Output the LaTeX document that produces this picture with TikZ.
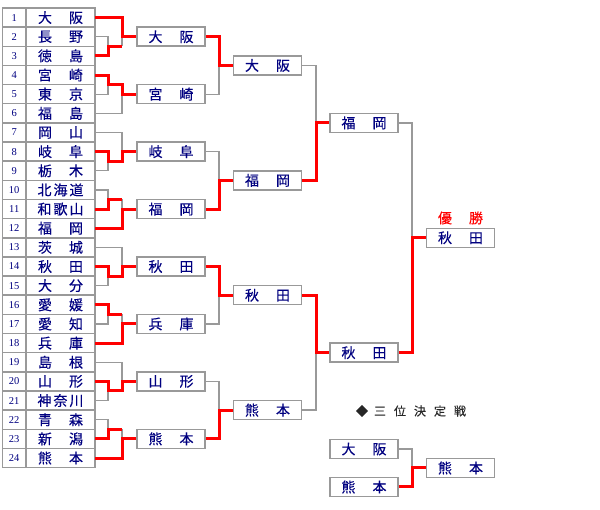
\documentclass[tikz,border=0pt]{standalone}
\usepackage{fontspec}
\newfontfamily\cjk[FakeBold=0.3]{Noto Sans CJK JP}
\newfontfamily\numf{Liberation Serif}
\definecolor{navy}{RGB}{0,0,128}
\definecolor{lg}{RGB}{153,153,153}
\newcommand\sprB[2]{\hbox to 45pt{#1\hfil #2}}
\newcommand\sprC[3]{\hbox to 46pt{#1\hfil #2\hfil #3}}
\newcommand\rowc[1]{(8+19.15*(#1-0.5))}
\newcommand\rowb[1]{(8+19.15*(#1))}
\begin{document}
\begin{tikzpicture}[x=1pt,y=-1pt,
  numcell/.style={draw=lg,line width=1.5pt,minimum width=23.5pt,minimum height=19.15pt,inner sep=0pt,outer sep=0pt,text=navy,font=\numf\fontsize{10.5}{10.5}\selectfont},
  namecell/.style={numcell,minimum width=69pt,font=\cjk\fontsize{14}{14}\selectfont},
  box/.style={draw=lg,line width=1.5pt,fill=white,minimum width=68pt,minimum height=19pt,inner sep=0pt,text=navy,font=\cjk\fontsize{14}{14}\selectfont},
  win/.style={draw=red,line width=3pt},
  lose/.style={draw=lg,line width=1.3pt}]
\useasboundingbox (0,0) rectangle (600,510);
% table
\foreach \k in {1,...,24}{
  \node[numcell] (n\k) at (14.25,{\rowc{\k}}) {\k};
}
\node[namecell] (t1) at (60.5,{\rowc{1}}) {\sprB{大}{阪}};
\node[namecell] (t2) at (60.5,{\rowc{2}}) {\sprB{長}{野}};
\node[namecell] (t3) at (60.5,{\rowc{3}}) {\sprB{徳}{島}};
\node[namecell] (t4) at (60.5,{\rowc{4}}) {\sprB{宮}{崎}};
\node[namecell] (t5) at (60.5,{\rowc{5}}) {\sprB{東}{京}};
\node[namecell] (t6) at (60.5,{\rowc{6}}) {\sprB{福}{島}};
\node[namecell] (t7) at (60.5,{\rowc{7}}) {\sprB{岡}{山}};
\node[namecell] (t8) at (60.5,{\rowc{8}}) {\sprB{岐}{阜}};
\node[namecell] (t9) at (60.5,{\rowc{9}}) {\sprB{栃}{木}};
\node[namecell] (t10) at (60.5,{\rowc{10}}) {\sprC{北}{海}{道}};
\node[namecell] (t11) at (60.5,{\rowc{11}}) {\sprC{和}{歌}{山}};
\node[namecell] (t12) at (60.5,{\rowc{12}}) {\sprB{福}{岡}};
\node[namecell] (t13) at (60.5,{\rowc{13}}) {\sprB{茨}{城}};
\node[namecell] (t14) at (60.5,{\rowc{14}}) {\sprB{秋}{田}};
\node[namecell] (t15) at (60.5,{\rowc{15}}) {\sprB{大}{分}};
\node[namecell] (t16) at (60.5,{\rowc{16}}) {\sprB{愛}{媛}};
\node[namecell] (t17) at (60.5,{\rowc{17}}) {\sprB{愛}{知}};
\node[namecell] (t18) at (60.5,{\rowc{18}}) {\sprB{兵}{庫}};
\node[namecell] (t19) at (60.5,{\rowc{19}}) {\sprB{島}{根}};
\node[namecell] (t20) at (60.5,{\rowc{20}}) {\sprB{山}{形}};
\node[namecell] (t21) at (60.5,{\rowc{21}}) {\sprC{神}{奈}{川}};
\node[namecell] (t22) at (60.5,{\rowc{22}}) {\sprB{青}{森}};
\node[namecell] (t23) at (60.5,{\rowc{23}}) {\sprB{新}{潟}};
\node[namecell] (t24) at (60.5,{\rowc{24}}) {\sprB{熊}{本}};
% junction coordinates
\foreach \i/\r in {1/2,2/4,3/8,4/10,5/14,6/16,7/20,8/22}{
  \coordinate (p\i) at (108,{\rowb{\r}});
}
\foreach \i/\r in {1/2,2/5,3/8,4/11,5/14,6/17,7/20,8/23}{
  \coordinate (q\i) at (122,{\rowc{\r}});
}
\foreach \i/\r in {1/3,2/9,3/15,4/21}{
  \coordinate (r\i) at (219,{\rowb{\r}});
}
\coordinate (v1) at (316,{\rowb{6}});
\coordinate (v2) at (316,{\rowb{18}});
\coordinate (f) at (412,{\rowb{12}});
\coordinate (tpj) at (412,468);
% second round boxes
\node[box] (s1) at (171,{\rowc{2}}) {\sprB{大}{阪}};
\node[box] (s2) at (171,{\rowc{5}}) {\sprB{宮}{崎}};
\node[box] (s3) at (171,{\rowc{8}}) {\sprB{岐}{阜}};
\node[box] (s4) at (171,{\rowc{11}}) {\sprB{福}{岡}};
\node[box] (s5) at (171,{\rowc{14}}) {\sprB{秋}{田}};
\node[box] (s6) at (171,{\rowc{17}}) {\sprB{兵}{庫}};
\node[box] (s7) at (171,{\rowc{20}}) {\sprB{山}{形}};
\node[box] (s8) at (171,{\rowc{23}}) {\sprB{熊}{本}};
% third round
\node[box] (u1) at (267.5,{\rowb{3}}) {\sprB{大}{阪}};
\node[box] (u2) at (267.5,{\rowb{9}}) {\sprB{福}{岡}};
\node[box] (u3) at (267.5,{\rowb{15}}) {\sprB{秋}{田}};
\node[box] (u4) at (267.5,{\rowb{21}}) {\sprB{熊}{本}};
% semi final
\node[box] (w1) at (364,{\rowb{6}}) {\sprB{福}{岡}};
\node[box] (w2) at (364,{\rowb{18}}) {\sprB{秋}{田}};
% champion
\node[box] (champ) at (460.5,{\rowb{12}}) {\sprB{秋}{田}};
\node[text=red,font=\cjk\fontsize{14}{14}\selectfont,inner sep=0pt] (yusho) at (460.5,218) {\sprB{優}{勝}};
% third place
\node[font=\cjk\fontsize{12}{12}\selectfont,text=black!85,inner sep=0pt] (sanni) at (411,411) {◆\hspace{6pt}三\hspace{8pt}位\hspace{8pt}決\hspace{8pt}定\hspace{8pt}戦};
\node[box] (tp1) at (364,449) {\sprB{大}{阪}};
\node[box] (tp2) at (364,487) {\sprB{熊}{本}};
\node[box] (tp3) at (460.5,468) {\sprB{熊}{本}};
% losing lines
\draw[lose] (t2.east) -| (p1);  \draw[lose] (p1 -| q1) -- (q1);
\draw[lose] (t5.east) -| (p2);  \draw[lose] (t6.east) -| (q2);
\draw[lose] (t9.east) -| (p3);  \draw[lose] (t7.east) -| (q3);
\draw[lose] (t10.east) -| (p4); \draw[lose] (p4 -| q4) -- (q4);
\draw[lose] (t15.east) -| (p5); \draw[lose] (t13.east) -| (q5);
\draw[lose] (t17.east) -| (p6); \draw[lose] (p6 -| q6) -- (q6);
\draw[lose] (t21.east) -| (p7); \draw[lose] (t19.east) -| (q7);
\draw[lose] (t22.east) -| (p8); \draw[lose] (p8 -| q8) -- (q8);
\draw[lose] (s2.east) -| (r1);
\draw[lose] (s3.east) -| (r2);
\draw[lose] (s6.east) -| (r3);
\draw[lose] (s7.east) -| (r4);
\draw[lose] (u1.east) -| (v1);
\draw[lose] (u4.east) -| (v2);
\draw[lose] (w1.east) -| (f);
\draw[lose] (tp1.east) -| (tpj);
% winning lines
\draw[win] (t3.east) -| (p1) -- (p1 -| q1);
\draw[win] (t1.east) -| (q1) -- (s1.west);
\draw[win] (t4.east) -| (p2) -- (p2 -| q2) -- (q2) -- (s2.west);
\draw[win] (t8.east) -| (p3) -- (p3 -| q3) -- (q3) -- (s3.west);
\draw[win] (t11.east) -| (p4) -- (p4 -| q4);
\draw[win] (t12.east) -| (q4) -- (s4.west);
\draw[win] (t14.east) -| (p5) -- (p5 -| q5) -- (q5) -- (s5.west);
\draw[win] (t16.east) -| (p6) -- (p6 -| q6);
\draw[win] (t18.east) -| (q6) -- (s6.west);
\draw[win] (t20.east) -| (p7) -- (p7 -| q7) -- (q7) -- (s7.west);
\draw[win] (t23.east) -| (p8) -- (p8 -| q8);
\draw[win] (t24.east) -| (q8) -- (s8.west);
\draw[win] (s1.east) -| (r1) -- (u1.west);
\draw[win] (s4.east) -| (r2) -- (u2.west);
\draw[win] (s5.east) -| (r3) -- (u3.west);
\draw[win] (s8.east) -| (r4) -- (u4.west);
\draw[win] (u2.east) -| (v1) -- (w1.west);
\draw[win] (u3.east) -| (v2) -- (w2.west);
\draw[win] (w2.east) -| (f) -- (champ.west);
\draw[win] (tp2.east) -| (tpj) -- (tp3.west);
\end{tikzpicture}
\end{document}
